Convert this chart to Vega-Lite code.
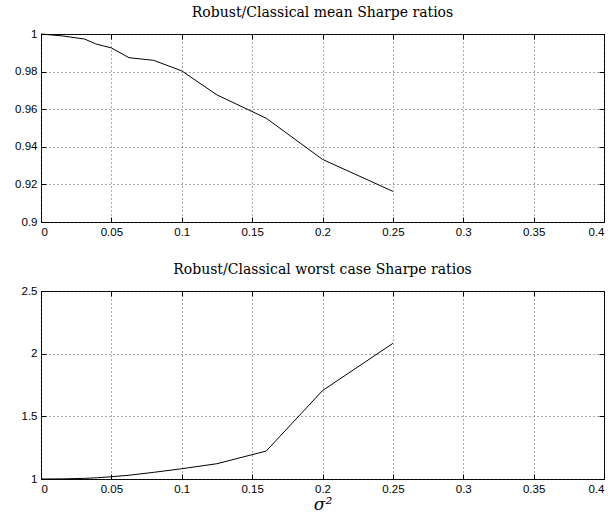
{
  "$schema": "https://vega.github.io/schema/vega-lite/v6.json",
  "padding": {"left": 5, "top": 5, "right": 5, "bottom": 5},
  "background": "white",
  "spacing": 24,
  "datasets": {
    "mean": [
      {"s2": 0, "r": 1.0},
      {"s2": 0.015, "r": 0.999},
      {"s2": 0.031, "r": 0.9973},
      {"s2": 0.039, "r": 0.9947},
      {"s2": 0.05, "r": 0.9926},
      {"s2": 0.0625, "r": 0.9874},
      {"s2": 0.08, "r": 0.986},
      {"s2": 0.1, "r": 0.9804},
      {"s2": 0.125, "r": 0.9676},
      {"s2": 0.16, "r": 0.9552},
      {"s2": 0.2, "r": 0.9333},
      {"s2": 0.25, "r": 0.9163}
    ],
    "worst": [
      {"s2": 0, "r": 1.0},
      {"s2": 0.015, "r": 1.001},
      {"s2": 0.031, "r": 1.005},
      {"s2": 0.04, "r": 1.01},
      {"s2": 0.05, "r": 1.018},
      {"s2": 0.0625, "r": 1.03},
      {"s2": 0.08, "r": 1.053},
      {"s2": 0.1, "r": 1.082},
      {"s2": 0.125, "r": 1.122},
      {"s2": 0.16, "r": 1.223},
      {"s2": 0.2, "r": 1.705},
      {"s2": 0.25, "r": 2.082}
    ]
  },
  "config": {
    "view": {"stroke": "black", "strokeWidth": 1},
    "axis": {
      "labelFont": "Liberation Sans",
      "labelFontSize": 11.5,
      "labelColor": "black",
      "domain": false,
      "tickColor": "black",
      "tickSize": -5,
      "ticks": true,
      "labelPadding": 9,
      "gridColor": "#333",
      "gridDash": [1, 3],
      "gridWidth": 1,
      "gridOpacity": 0.8
    },
    "axisY": {"minExtent": 35, "maxExtent": 35},
    "title": {
      "font": "DejaVu Serif",
      "fontSize": 14,
      "fontWeight": "normal",
      "color": "black",
      "offset": 8
    }
  },
  "vconcat": [
    {
      "width": 563,
      "height": 188,
      "title": "Robust/Classical mean Sharpe ratios",
      "data": {"name": "mean"},
      "layer": [
        {
          "mark": {"type": "line", "color": "black", "strokeWidth": 1},
          "encoding": {
            "x": {
              "field": "s2", "type": "quantitative",
              "scale": {"domain": [0, 0.4], "nice": false, "zero": false},
              "axis": {"title": null, "values": [0, 0.05, 0.1, 0.15, 0.2, 0.25, 0.3, 0.35, 0.4], "format": "~g"}
            },
            "y": {
              "field": "r", "type": "quantitative",
              "scale": {"domain": [0.9, 1], "nice": false, "zero": false},
              "axis": {"title": null, "values": [0.9, 0.92, 0.94, 0.96, 0.98, 1], "format": "~g"}
            }
          }
        },
        {
          "mark": {"type": "line", "opacity": 0},
          "encoding": {
            "x": {
              "field": "s2", "type": "quantitative",
              "axis": {"orient": "top", "title": null, "labels": false, "grid": false, "values": [0, 0.05, 0.1, 0.15, 0.2, 0.25, 0.3, 0.35, 0.4]}
            },
            "y": {
              "field": "r", "type": "quantitative",
              "axis": {"orient": "right", "title": null, "labels": false, "grid": false, "minExtent": 0, "maxExtent": 0, "values": [0.9, 0.92, 0.94, 0.96, 0.98, 1]}
            }
          }
        }
      ],
      "resolve": {"axis": {"x": "independent", "y": "independent"}}
    },
    {
      "width": 563,
      "height": 188,
      "title": "Robust/Classical worst case Sharpe ratios",
      "data": {"name": "worst"},
      "layer": [
        {
          "mark": {"type": "line", "color": "black", "strokeWidth": 1},
          "encoding": {
            "x": {
              "field": "s2", "type": "quantitative",
              "scale": {"domain": [0, 0.4], "nice": false, "zero": false},
              "axis": {
                "title": "σ²",
                "titleFont": "DejaVu Serif",
                "titleFontStyle": "italic",
                "titleFontWeight": "normal",
                "titleFontSize": 17,
                "titleColor": "black",
                "titlePadding": 2,
                "values": [0, 0.05, 0.1, 0.15, 0.2, 0.25, 0.3, 0.35, 0.4], "format": "~g"
              }
            },
            "y": {
              "field": "r", "type": "quantitative",
              "scale": {"domain": [1, 2.5], "nice": false, "zero": false},
              "axis": {"title": null, "values": [1, 1.5, 2, 2.5], "format": "~g"}
            }
          }
        },
        {
          "mark": {"type": "line", "opacity": 0},
          "encoding": {
            "x": {
              "field": "s2", "type": "quantitative",
              "axis": {"orient": "top", "title": null, "labels": false, "grid": false, "values": [0, 0.05, 0.1, 0.15, 0.2, 0.25, 0.3, 0.35, 0.4]}
            },
            "y": {
              "field": "r", "type": "quantitative",
              "axis": {"orient": "right", "title": null, "labels": false, "grid": false, "minExtent": 0, "maxExtent": 0, "values": [1, 1.5, 2, 2.5]}
            }
          }
        }
      ],
      "resolve": {"axis": {"x": "independent", "y": "independent"}}
    }
  ]
}
